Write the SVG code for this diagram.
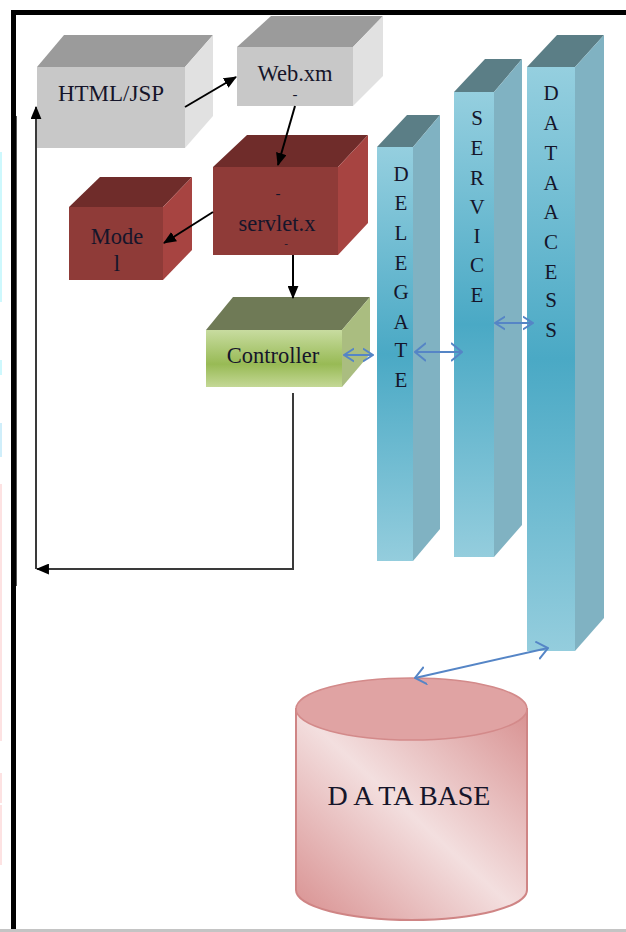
<svg xmlns="http://www.w3.org/2000/svg" width="626" height="932" viewBox="0 0 626 932" font-family="'Liberation Serif', 'Times New Roman', serif">
  <defs>
    <style>
      .lbl { font-family: "Liberation Serif", "Times New Roman", serif; fill: #15152a; text-anchor: middle; }
      .box { font-size: 22.5px; }
      .dash { font-size: 15px; }
      .col { font-size: 21px; }
      .gray-front { fill: #c8c8c8; }
      .gray-top { fill: #9b9b9b; }
      .gray-side { fill: #e1e1e1; }
      .red-front { fill: #8f3b38; }
      .red-top { fill: #6f2c2a; }
      .red-side { fill: #a74441; }
      .blue-top { fill: #5b7e86; }
      .blue-side { fill: #80b2c2; }
      .blk { fill: none; stroke: #000; stroke-width: 2; }
      .fb { fill: none; stroke: #3a3a3a; stroke-width: 2; }
      .dbl { fill: none; stroke: #5585c6; stroke-width: 2; }
    </style>
    <marker id="head" viewBox="0 0 12 10" refX="11" refY="5" markerWidth="13" markerHeight="11" markerUnits="userSpaceOnUse" orient="auto">
      <path d="M0,0 L12,5 L0,10 Z" fill="#000"/>
    </marker>
    <marker id="open" viewBox="0 0 12 20" refX="11" refY="10" markerWidth="12" markerHeight="20" markerUnits="userSpaceOnUse" orient="auto-start-reverse">
      <path d="M0,1 L11,10 L0,19" fill="none" stroke="#5585c6" stroke-width="2"/>
    </marker>
    <marker id="openS" viewBox="0 0 12 16" refX="11" refY="8" markerWidth="11" markerHeight="16" markerUnits="userSpaceOnUse" orient="auto-start-reverse">
      <path d="M0,1 L11,8 L0,15" fill="none" stroke="#5585c6" stroke-width="2"/>
    </marker>
    <linearGradient id="pillar" x1="0" y1="0" x2="0" y2="1">
      <stop offset="0" stop-color="#95cfdf"/>
      <stop offset="0.5" stop-color="#4aa9c5"/>
      <stop offset="1" stop-color="#94cddd"/>
    </linearGradient>
    <linearGradient id="green" x1="0" y1="0" x2="0" y2="1">
      <stop offset="0" stop-color="#c8dca0"/>
      <stop offset="0.6" stop-color="#98ba55"/>
      <stop offset="1" stop-color="#c4d896"/>
    </linearGradient>
    <linearGradient id="dbBody" x1="0" y1="1" x2="1" y2="0">
      <stop offset="0" stop-color="#d88f8f"/>
      <stop offset="0.5" stop-color="#f3dfdf"/>
      <stop offset="1" stop-color="#d89191"/>
    </linearGradient>
  </defs>

  <rect width="626" height="932" fill="#fff"/>

  <!-- page edge marks -->
  <g id="margin">
    <rect x="0" y="152" width="2" height="150" fill="#cdf8fd"/>
    <rect x="0" y="360" width="2" height="15" fill="#cdf8fd"/>
    <rect x="0" y="423" width="2" height="34" fill="#cfeefa"/>
    <rect x="0" y="484" width="2" height="257" fill="#fde2e2"/>
    <rect x="0" y="773" width="2" height="30" fill="#fde2e2"/>
    <rect x="0" y="805" width="2" height="60" fill="#fde2e2"/>
    <rect x="16" y="116" width="1" height="470" fill="#555"/>
  </g>

  <!-- frame -->
  <g id="frame">
    <rect x="11" y="10" width="615" height="5" fill="#000"/>
    <rect x="11" y="10" width="5" height="922" fill="#000"/>
    <rect x="0" y="929" width="626" height="3" fill="#c4c4c4"/>
  </g>

  <g id="html-jsp">
    <polygon class="gray-top" points="37,67 64,35 213,35 185,67"/>
    <polygon class="gray-side" points="185,67 213,35 213,116 185,148"/>
    <rect class="gray-front" x="37" y="67" width="148" height="81"/>
    <text class="lbl" x="111" y="101" font-size="23">HTML/JSP</text>
  </g>

  <g id="web-xml">
    <polygon class="gray-top" points="237,47 271,16 383,16 353,47"/>
    <polygon class="gray-side" points="353,47 383,16 383,76 353,106"/>
    <rect class="gray-front" x="237" y="47" width="116" height="59"/>
    <text class="lbl box" x="295" y="81">Web.xm</text>
    <text class="lbl dash" x="295" y="99">-</text>
  </g>

  <g id="servlet">
    <polygon class="red-top" points="213,167 247,135 368,135 338,167"/>
    <polygon class="red-side" points="338,167 368,135 368,223 338,255"/>
    <rect class="red-front" x="213" y="167" width="125" height="88"/>
    <text class="lbl dash" x="278" y="198">-</text>
    <text class="lbl box" x="277" y="231">servlet.x</text>
    <text class="lbl" x="286" y="247" font-size="11">-</text>
  </g>

  <g id="model">
    <polygon class="red-top" points="69,207 100,177 192,177 163,207"/>
    <polygon class="red-side" points="163,207 192,177 192,250 163,280"/>
    <rect class="red-front" x="69" y="207" width="94" height="73"/>
    <text class="lbl box" x="117" y="244">Mode</text>
    <text class="lbl box" x="117" y="271">l</text>
  </g>

  <g id="controller">
    <polygon points="206,330 233,297 370,297 342,330" fill="#6f7a56"/>
    <polygon points="342,330 370,297 370,354 342,387" fill="#aabd80"/>
    <rect x="206" y="330" width="136" height="57" fill="url(#green)"/>
    <text class="lbl box" x="273" y="363">Controller</text>
  </g>

  <g id="delegate">
    <polygon class="blue-top" points="377,147 407,115 440,115 413,147"/>
    <polygon class="blue-side" points="413,147 440,115 440,529 413,561"/>
    <rect x="377" y="147" width="36" height="414" fill="url(#pillar)"/>
    <g class="lbl col">
      <text x="401" y="181">D</text>
      <text x="401" y="210">E</text>
      <text x="401" y="240">L</text>
      <text x="401" y="270">E</text>
      <text x="401" y="299">G</text>
      <text x="401" y="329">A</text>
      <text x="401" y="357">T</text>
      <text x="401" y="387">E</text>
    </g>
  </g>

  <g id="service">
    <polygon class="blue-top" points="454,92 485,59 522,59 494,92"/>
    <polygon class="blue-side" points="494,92 522,59 522,525 494,557"/>
    <rect x="454" y="92" width="40" height="465" fill="url(#pillar)"/>
    <g class="lbl col">
      <text x="477" y="125">S</text>
      <text x="477" y="155">E</text>
      <text x="477" y="185">R</text>
      <text x="477" y="214">V</text>
      <text x="477" y="243">I</text>
      <text x="477" y="272">C</text>
      <text x="477" y="302">E</text>
    </g>
  </g>

  <g id="data-access">
    <polygon class="blue-top" points="527,67 557,35 604,35 575,67"/>
    <polygon class="blue-side" points="575,67 604,35 604,618 575,651"/>
    <rect x="527" y="67" width="48" height="584" fill="url(#pillar)"/>
    <g class="lbl col">
      <text x="551" y="100">D</text>
      <text x="551" y="130">A</text>
      <text x="551" y="160">T</text>
      <text x="551" y="190">A</text>
      <text x="551" y="219">A</text>
      <text x="551" y="249">C</text>
      <text x="551" y="279">E</text>
      <text x="551" y="307">S</text>
      <text x="551" y="337">S</text>
    </g>
  </g>

  <g id="database">
    <path d="M296,709 V890 A115.5,30 0 0 0 527,890 V709 Z" fill="url(#dbBody)" stroke="#cf8585" stroke-width="2"/>
    <ellipse cx="411.5" cy="709" rx="115.5" ry="31" fill="#e0a3a3" stroke="#d38a8a" stroke-width="1.5"/>
    <text class="lbl" x="409" y="805" font-size="28">D A TA BASE</text>
  </g>

  <g id="connectors">
    <line class="blk" x1="185" y1="107" x2="236" y2="77" marker-end="url(#head)"/>
    <line class="blk" x1="295" y1="106" x2="278" y2="165" marker-end="url(#head)"/>
    <line class="blk" x1="213" y1="212" x2="164" y2="243" marker-end="url(#head)"/>
    <line class="blk" x1="293" y1="255" x2="293" y2="298" marker-end="url(#head)"/>
    <path class="fb" d="M293,393 V569 H37" marker-end="url(#head)"/>
    <line class="fb" x1="36" y1="569" x2="36" y2="107" marker-end="url(#head)"/>
    <line class="dbl" x1="344" y1="355" x2="373" y2="355" marker-start="url(#openS)" marker-end="url(#openS)"/>
    <line class="dbl" x1="415" y1="352" x2="462" y2="352" marker-start="url(#open)" marker-end="url(#open)"/>
    <line class="dbl" x1="495" y1="323" x2="533" y2="323" marker-start="url(#openS)" marker-end="url(#openS)"/>
    <line class="dbl" x1="415" y1="678" x2="548" y2="648" marker-start="url(#open)" marker-end="url(#open)"/>
  </g>
</svg>
